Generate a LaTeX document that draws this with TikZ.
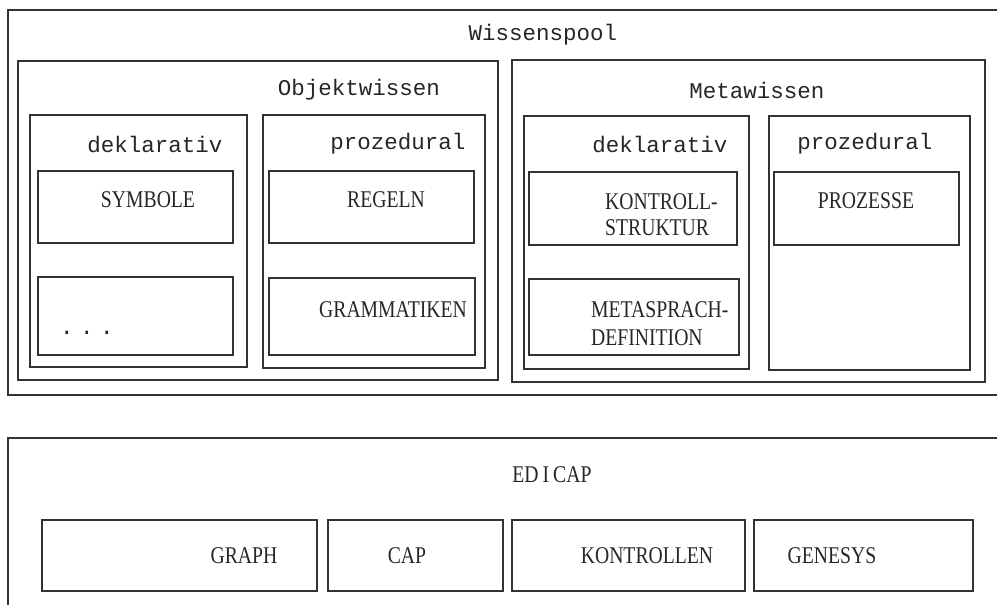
\documentclass[tikz,border=0pt]{standalone}
\usepackage{fontspec}
\newfontfamily\monofont{Liberation Mono}
\newfontfamily\capsfont[FakeStretch=0.82]{Liberation Serif}
\begin{document}
\begin{tikzpicture}[x=1pt,y=-1pt,
  box/.style={draw=black!80, line width=1.2pt, rectangle, inner sep=0pt, outer sep=0pt, anchor=north west},
  lower/.style={text=black!85, inner sep=0pt, font=\monofont\fontsize{22.5}{26}\selectfont},
  upper/.style={text=black!85, inner sep=0pt, font=\capsfont\fontsize{24}{26}\selectfont}]
\useasboundingbox (0,0) rectangle (997,605);
\clip (0,0) rectangle (997,605);
% Wissenspool
\node[box, minimum width=1010pt, minimum height=385pt] (wp) at (8,10) {};
\node[lower] (wpt) at (543,35) {Wissenspool};
\node[box, minimum width=480pt, minimum height=319pt] (obj) at (18,61) {};
\node[lower] (objt) at (359,90) {Objektwissen};
\node[box, minimum width=473pt, minimum height=322pt] (meta) at (512,60) {};
\node[lower] (metat) at (757,90) {Metawissen};
% Objektwissen
\node[box, minimum width=217pt, minimum height=252pt] (od) at (30,115) {};
\node[lower] (odt) at (155,144) {deklarativ};
\node[box, minimum width=222pt, minimum height=253pt] (op) at (263,115) {};
\node[lower] (opt) at (398,144) {prozedural};
\node[box, minimum width=195pt, minimum height=72pt] (sym) at (38,171) {};
\node[upper] (symt) at (148,200) {SYMBOLE};
\node[box, minimum width=195pt, minimum height=78pt] (etc) at (38,277) {};
\node[lower] (etct) at (87,333) {.\hspace{6.5pt}.\hspace{6.5pt}.};
\node[box, minimum width=205pt, minimum height=72pt] (reg) at (269,171) {};
\node[upper] (regt) at (386,200) {REGELN};
\node[box, minimum width=206pt, minimum height=77pt] (gram) at (269,278) {};
\node[upper] (gramt) at (393,310) {GRAMMATIKEN};
% Metawissen
\node[box, minimum width=225pt, minimum height=253pt] (md) at (524,116) {};
\node[lower] (mdt) at (660,144) {deklarativ};
\node[box, minimum width=201pt, minimum height=254pt] (mp) at (769,116) {};
\node[lower] (mpt) at (865,144) {prozedural};
\node[box, minimum width=208pt, minimum height=73pt] (kon) at (529,172) {};
\node[upper, align=left, anchor=west] (kont) at (605,215) {KONTROLL-\\STRUKTUR};
\node[box, minimum width=210pt, minimum height=76pt] (msd) at (529,279) {};
\node[upper, align=left, anchor=west, font=\capsfont\fontsize{24}{28}\selectfont] (msdt) at (591,324) {METASPRACH-\\DEFINITION};
\node[box, minimum width=185pt, minimum height=73pt] (proz) at (774,172) {};
\node[upper] (prozt) at (866,201) {PROZESSE};
% EDICAP
\node[box, minimum width=1010pt, minimum height=190pt] (edi) at (8,438) {};
\node[upper] (edit) at (552,475) {ED\,I\,CAP};
\node[box, minimum width=275pt, minimum height=71pt] (graph) at (42,520) {};
\node[upper] (grapht) at (244,556) {GRAPH};
\node[box, minimum width=175pt, minimum height=71pt] (cap) at (328,520) {};
\node[upper] (capt) at (407,556) {CAP};
\node[box, minimum width=233pt, minimum height=71pt] (kontr) at (512,520) {};
\node[upper] (kontrt) at (647,556) {KONTROLLEN};
\node[box, minimum width=219pt, minimum height=71pt] (gen) at (754,520) {};
\node[upper] (gent) at (832,556) {GENESYS};
\end{tikzpicture}
\end{document}
